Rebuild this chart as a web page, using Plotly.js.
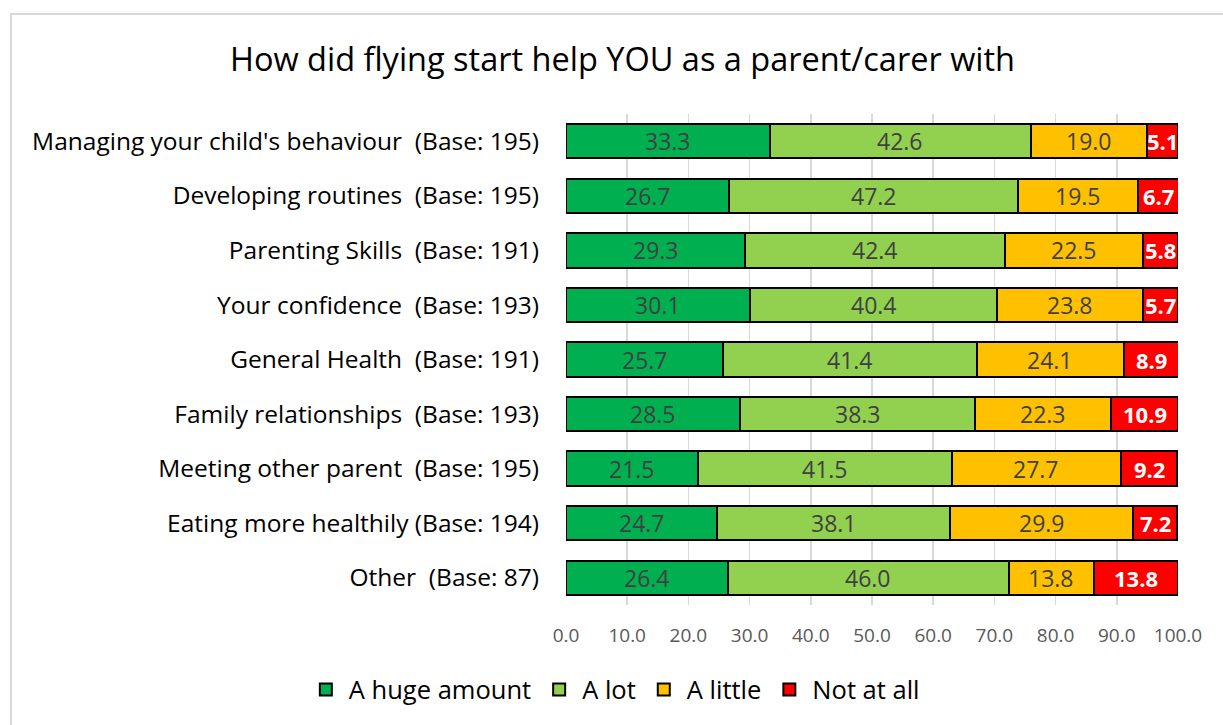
<!DOCTYPE html>
<html>
<head>
<meta charset="utf-8">
<script src="https://cdn.plot.ly/plotly-3.0.1.min.js"></script>
<style>
html,body{margin:0;padding:0;overflow:hidden;background:#fff;}
#frame{position:absolute;left:10px;top:13px;width:1300px;height:800px;border-left:2px solid #d9d9d9;border-top:2px solid #d9d9d9;}
#chart{position:absolute;left:0;top:0;width:1223px;height:725px;}
</style>
</head>
<body>
<div id="frame"></div>
<div id="chart"></div>
<script>
const categories = [
  "Managing your child's behaviour\u00a0\u00a0(Base: 195)",
  "Developing routines\u00a0\u00a0(Base: 195)",
  "Parenting Skills\u00a0\u00a0(Base: 191)",
  "Your confidence\u00a0\u00a0(Base: 193)",
  "General Health\u00a0\u00a0(Base: 191)",
  "Family relationships\u00a0\u00a0(Base: 193)",
  "Meeting other parent\u00a0\u00a0(Base: 195)",
  "Eating more healthily (Base: 194)",
  "Other\u00a0\u00a0(Base: 87)"
];
const hugeAmount = [33.3, 26.7, 29.3, 30.1, 25.7, 28.5, 21.5, 24.7, 26.4];
const aLot       = [42.6, 47.2, 42.4, 40.4, 41.4, 38.3, 41.5, 38.1, 46.0];
const aLittle    = [19.0, 19.5, 22.5, 23.8, 24.1, 22.3, 27.7, 29.9, 13.8];
const notAtAll   = [5.1, 6.7, 5.8, 5.7, 8.9, 10.9, 9.2, 7.2, 13.8];
const seriesNames = ["A huge amount", "A lot", "A little", "Not at all"];
const xTicks = [0,10,20,30,40,50,60,70,80,90,100];

const colors = ["#00b050", "#92d050", "#ffc000", "#ff0000"];
const font = "'Open Sans', sans-serif";
const allVals = [hugeAmount, aLot, aLittle, notAtAll];

const traces = allVals.map((vals, i) => ({
  type: "bar",
  orientation: "h",
  name: seriesNames[i],
  y: categories,
  x: vals,
  marker: {color: colors[i], line: {color: "#000000", width: 2}},
  hoverinfo: "x+y+name"
}));

// data labels centred on each segment, positioned through the axis scales
const annotations = [];
categories.forEach((cat, r) => {
  let cum = 0;
  allVals.forEach((vals, i) => {
    const v = vals[r];
    annotations.push({
      x: cum + v / 2, y: cat, xref: "x", yref: "y",
      text: i === 3 ? "<b>" + v.toFixed(1) + "</b>" : v.toFixed(1),
      showarrow: false, xanchor: "center", yanchor: "middle",
      font: i === 3 ? {family: font, size: 22, color: "#ffffff"}
                    : {family: font, size: 23, color: "#404040"}
    });
    cum += v;
  });
});

const layout = {
  width: 1223, height: 725,
  paper_bgcolor: "rgba(0,0,0,0)",
  plot_bgcolor: "rgba(0,0,0,0)",
  margin: {l: 566, r: 45, t: 114, b: 120},
  barmode: "stack",
  bargap: 0.37,
  title: {text: "How did flying start help YOU as a parent/carer with",
          font: {family: font, size: 32.5, color: "#000000"},
          x: 0.509, xref: "container", xanchor: "center", y: 0.918, yanchor: "middle"},
  xaxis: {range: [0, 100], tickvals: xTicks, ticktext: xTicks.map(v => v.toFixed(1)),
          showgrid: true, gridcolor: "#d9d9d9", gridwidth: 1.5, zeroline: false,
          showline: false, ticks: "", ticklabelstandoff: 17,
          tickfont: {family: font, size: 19, color: "#595959"}, fixedrange: true},
  yaxis: {autorange: "reversed", type: "category", showgrid: false, zeroline: false,
          showline: false, ticks: "", ticklabelstandoff: 26,
          tickfont: {family: font, size: 24.5, color: "#000000"}, fixedrange: true},
  annotations: annotations,
  showlegend: true,
  legend: {orientation: "h", x: -0.43, xanchor: "left", y: -0.173, yanchor: "middle",
           font: {family: font, size: 25.5, color: "#000000"}, traceorder: "normal",
           itemwidth: 36, itemsizing: "constant"}
};

Plotly.newPlot("chart", traces, layout, {displayModeBar: false, staticPlot: true});
</script>
</body>
</html>
